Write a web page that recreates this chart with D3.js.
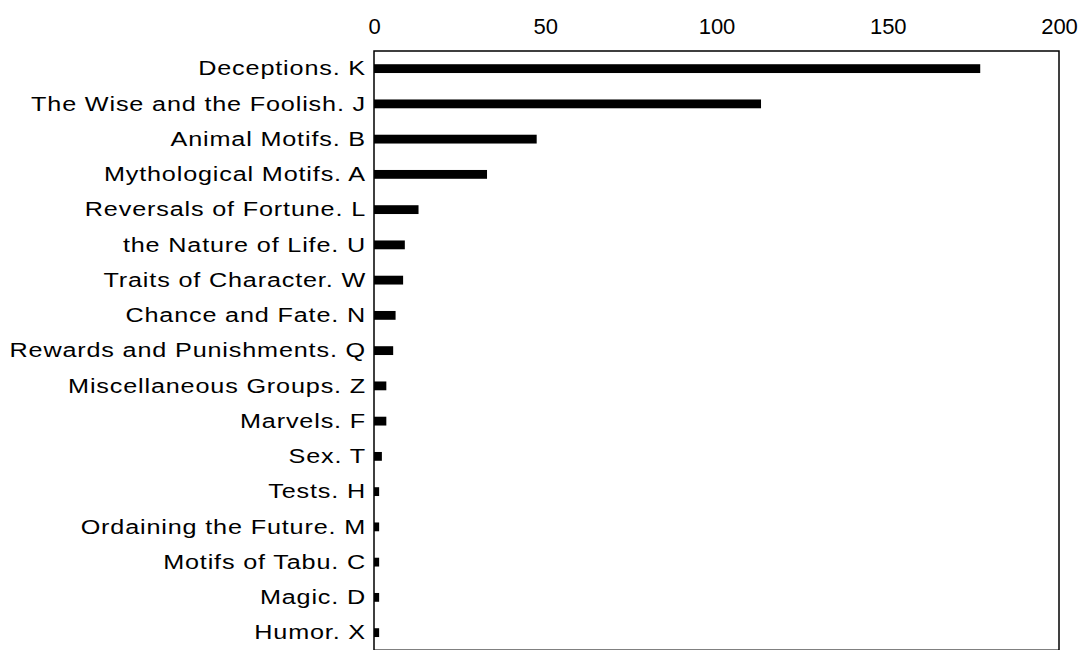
<!DOCTYPE html>
<html>
<head>
<meta charset="utf-8">
<script src="https://cdn.jsdelivr.net/npm/d3@7"></script>
<style>
  html, body { margin: 0; padding: 0; background: #fff; }
  svg { display: block; }
</style>
</head>
<body>
<svg id="chart" width="1085" height="650"></svg>
<script>
const categories = [
  "Deceptions. K", "The Wise and the Foolish. J", "Animal Motifs. B",
  "Mythological Motifs. A", "Reversals of Fortune. L", "the Nature of Life. U",
  "Traits of Character. W", "Chance and Fate. N", "Rewards and Punishments. Q",
  "Miscellaneous Groups. Z", "Marvels. F", "Sex. T", "Tests. H",
  "Ordaining the Future. M", "Motifs of Tabu. C", "Magic. D", "Humor. X"
];
const values = [177, 113, 47.5, 33, 13, 9, 8.5, 6.3, 5.6, 3.6, 3.6, 2.3, 1.5, 1.5, 1.5, 1.5, 1.5];
const xTicks = [0, 50, 100, 150, 200];

const svg = d3.select("#chart");
const margin = { left: 374, right: 26, top: 51, bottom: 0 };
const W = 1085, H = 650;
const font = "'Liberation Sans', Arial, Helvetica, sans-serif";

const x = d3.scaleLinear().domain([0, 200]).range([margin.left, W - margin.right]);
const y = d3.scaleBand().domain(categories).range([margin.top, margin.top + 17 * 35.25]).paddingInner(0.75).paddingOuter(0.375);

// bars
svg.append("g").selectAll("rect").data(categories).join("rect")
  .attr("x", x(0))
  .attr("y", d => y(d))
  .attr("width", (d, i) => x(values[i]) - x(0))
  .attr("height", y.bandwidth())
  .attr("fill", "#000");

// frame
svg.append("rect")
  .attr("x", x(0)).attr("y", margin.top)
  .attr("width", x(200) - x(0)).attr("height", 17 * 35.25)
  .attr("fill", "none").attr("stroke", "#000").attr("stroke-width", 1.5);

// top axis
const xAxis = svg.append("g").attr("transform", `translate(0,${margin.top})`)
  .call(d3.axisTop(x).tickValues(xTicks).tickSize(0).tickPadding(17));
xAxis.select(".domain").remove();
xAxis.selectAll("text").attr("font-family", font).attr("font-size", 22).attr("fill", "#000");

// left axis
const sx = 1.2;
const yAxis = svg.append("g").attr("transform", `translate(${x(0)},0)`)
  .call(d3.axisLeft(y).tickSize(0).tickPadding(0));
yAxis.select(".domain").remove();
yAxis.selectAll("text")
  .attr("x", -8 / sx)
  .attr("transform", `scale(${sx},1)`)
  .attr("font-family", font).attr("font-size", 21)
  .attr("letter-spacing", 0.7).attr("fill", "#000");
</script>
</body>
</html>
